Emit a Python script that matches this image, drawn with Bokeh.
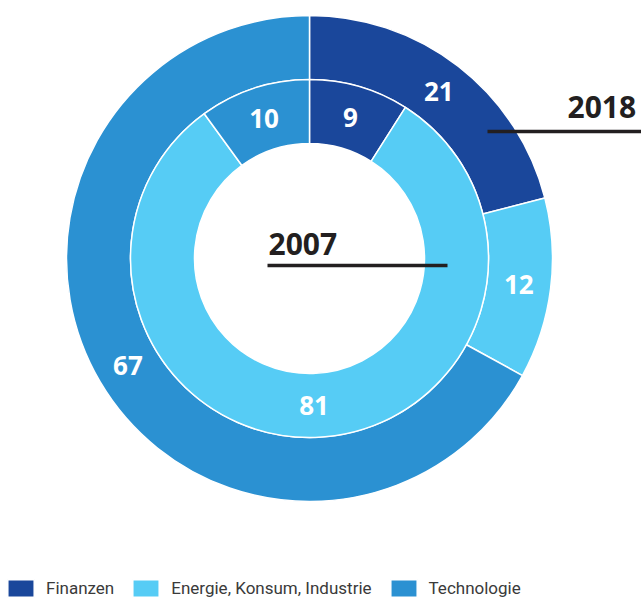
import math
from bokeh.plotting import figure
from bokeh.models import ColumnDataSource, Legend, LegendItem
from bokeh.core.properties import value
from bokeh.embed import file_html
from bokeh.resources import INLINE

# ---- data ----
categories = ["Finanzen", "Energie, Konsum, Industrie", "Technologie"]
values_2018 = [21, 12, 67]
values_2007 = [9, 81, 10]
years = ["2018", "2007"]
colors = ["#1a479b", "#56ccf5", "#2b91d2"]

# ---- geometry (pixel-like data units) ----
W, H = 641, 599
cx, cy = 309, 341
rings = {"2018": (179, 243), "2007": (115, 179)}
series = {"2018": values_2018, "2007": values_2007}

rows = dict(x=[], y=[], r0=[], r1=[], start=[], end=[], color=[], category=[],
            lx=[], ly=[], label=[])
for yr in years:
    vals = series[yr]
    r0, r1 = rings[yr]
    total = float(sum(vals))
    cum = 0.0
    for cat, v, col in zip(categories, vals, colors):
        a0 = math.pi / 2 - 2 * math.pi * cum / total
        a1 = math.pi / 2 - 2 * math.pi * (cum + v) / total
        mid = (a0 + a1) / 2
        rm = (r0 + r1) / 2
        rows["x"].append(cx); rows["y"].append(cy)
        rows["r0"].append(r0); rows["r1"].append(r1)
        rows["start"].append(a0); rows["end"].append(a1)
        rows["color"].append(col); rows["category"].append(cat)
        rows["lx"].append(cx + rm * math.cos(mid))
        rows["ly"].append(cy + rm * math.sin(mid))
        rows["label"].append(str(v))
        cum += v

src = ColumnDataSource(rows)

p = figure(width=W, height=H, x_range=(0, W), y_range=(0, H),
           output_backend="svg", toolbar_location=None,
           x_axis_location=None, y_axis_location=None,
           min_border=0, outline_line_color=None)
p.grid.visible = False

r = p.annular_wedge(x="x", y="y", inner_radius="r0", outer_radius="r1",
                    start_angle="start", end_angle="end", direction="clock",
                    fill_color="color", line_color="white", line_width=1.5,
                    source=src)

p.text(x="lx", y="ly", text="label", source=src, text_color="white",
       text_font=value("Open Sans"), text_font_style="bold",
       text_font_size="26px", text_align="center", text_baseline="middle")

# year annotations
p.text(x=[268], y=[356], text=[years[1]], text_color="#231f20",
       text_font=value("Open Sans"), text_font_style="bold",
       text_font_size="30px", text_align="left", text_baseline="middle")
p.segment(x0=[267], y0=[334], x1=[447], y1=[334], line_color="#231f20", line_width=3.5)
p.text(x=[567], y=[493], text=[years[0]], text_color="#231f20",
       text_font=value("Open Sans"), text_font_style="bold",
       text_font_size="30px", text_align="left", text_baseline="middle")
p.segment(x0=[487], y0=[468], x1=[641], y1=[468], line_color="#231f20", line_width=3.5)

items = [LegendItem(label=c, renderers=[r], index=i) for i, c in enumerate(categories)]
legend = Legend(items=items, orientation="horizontal", location=(4, 0),
                glyph_width=33, glyph_height=22, label_standoff=9, spacing=15,
                padding=0, margin=0, border_line_color=None,
                background_fill_alpha=0,
                label_text_font="Roboto", label_text_font_size="17px",
                label_text_color="#3a3a3a")
p.add_layout(legend)

open("out.html", "w").write(file_html(p, INLINE))
